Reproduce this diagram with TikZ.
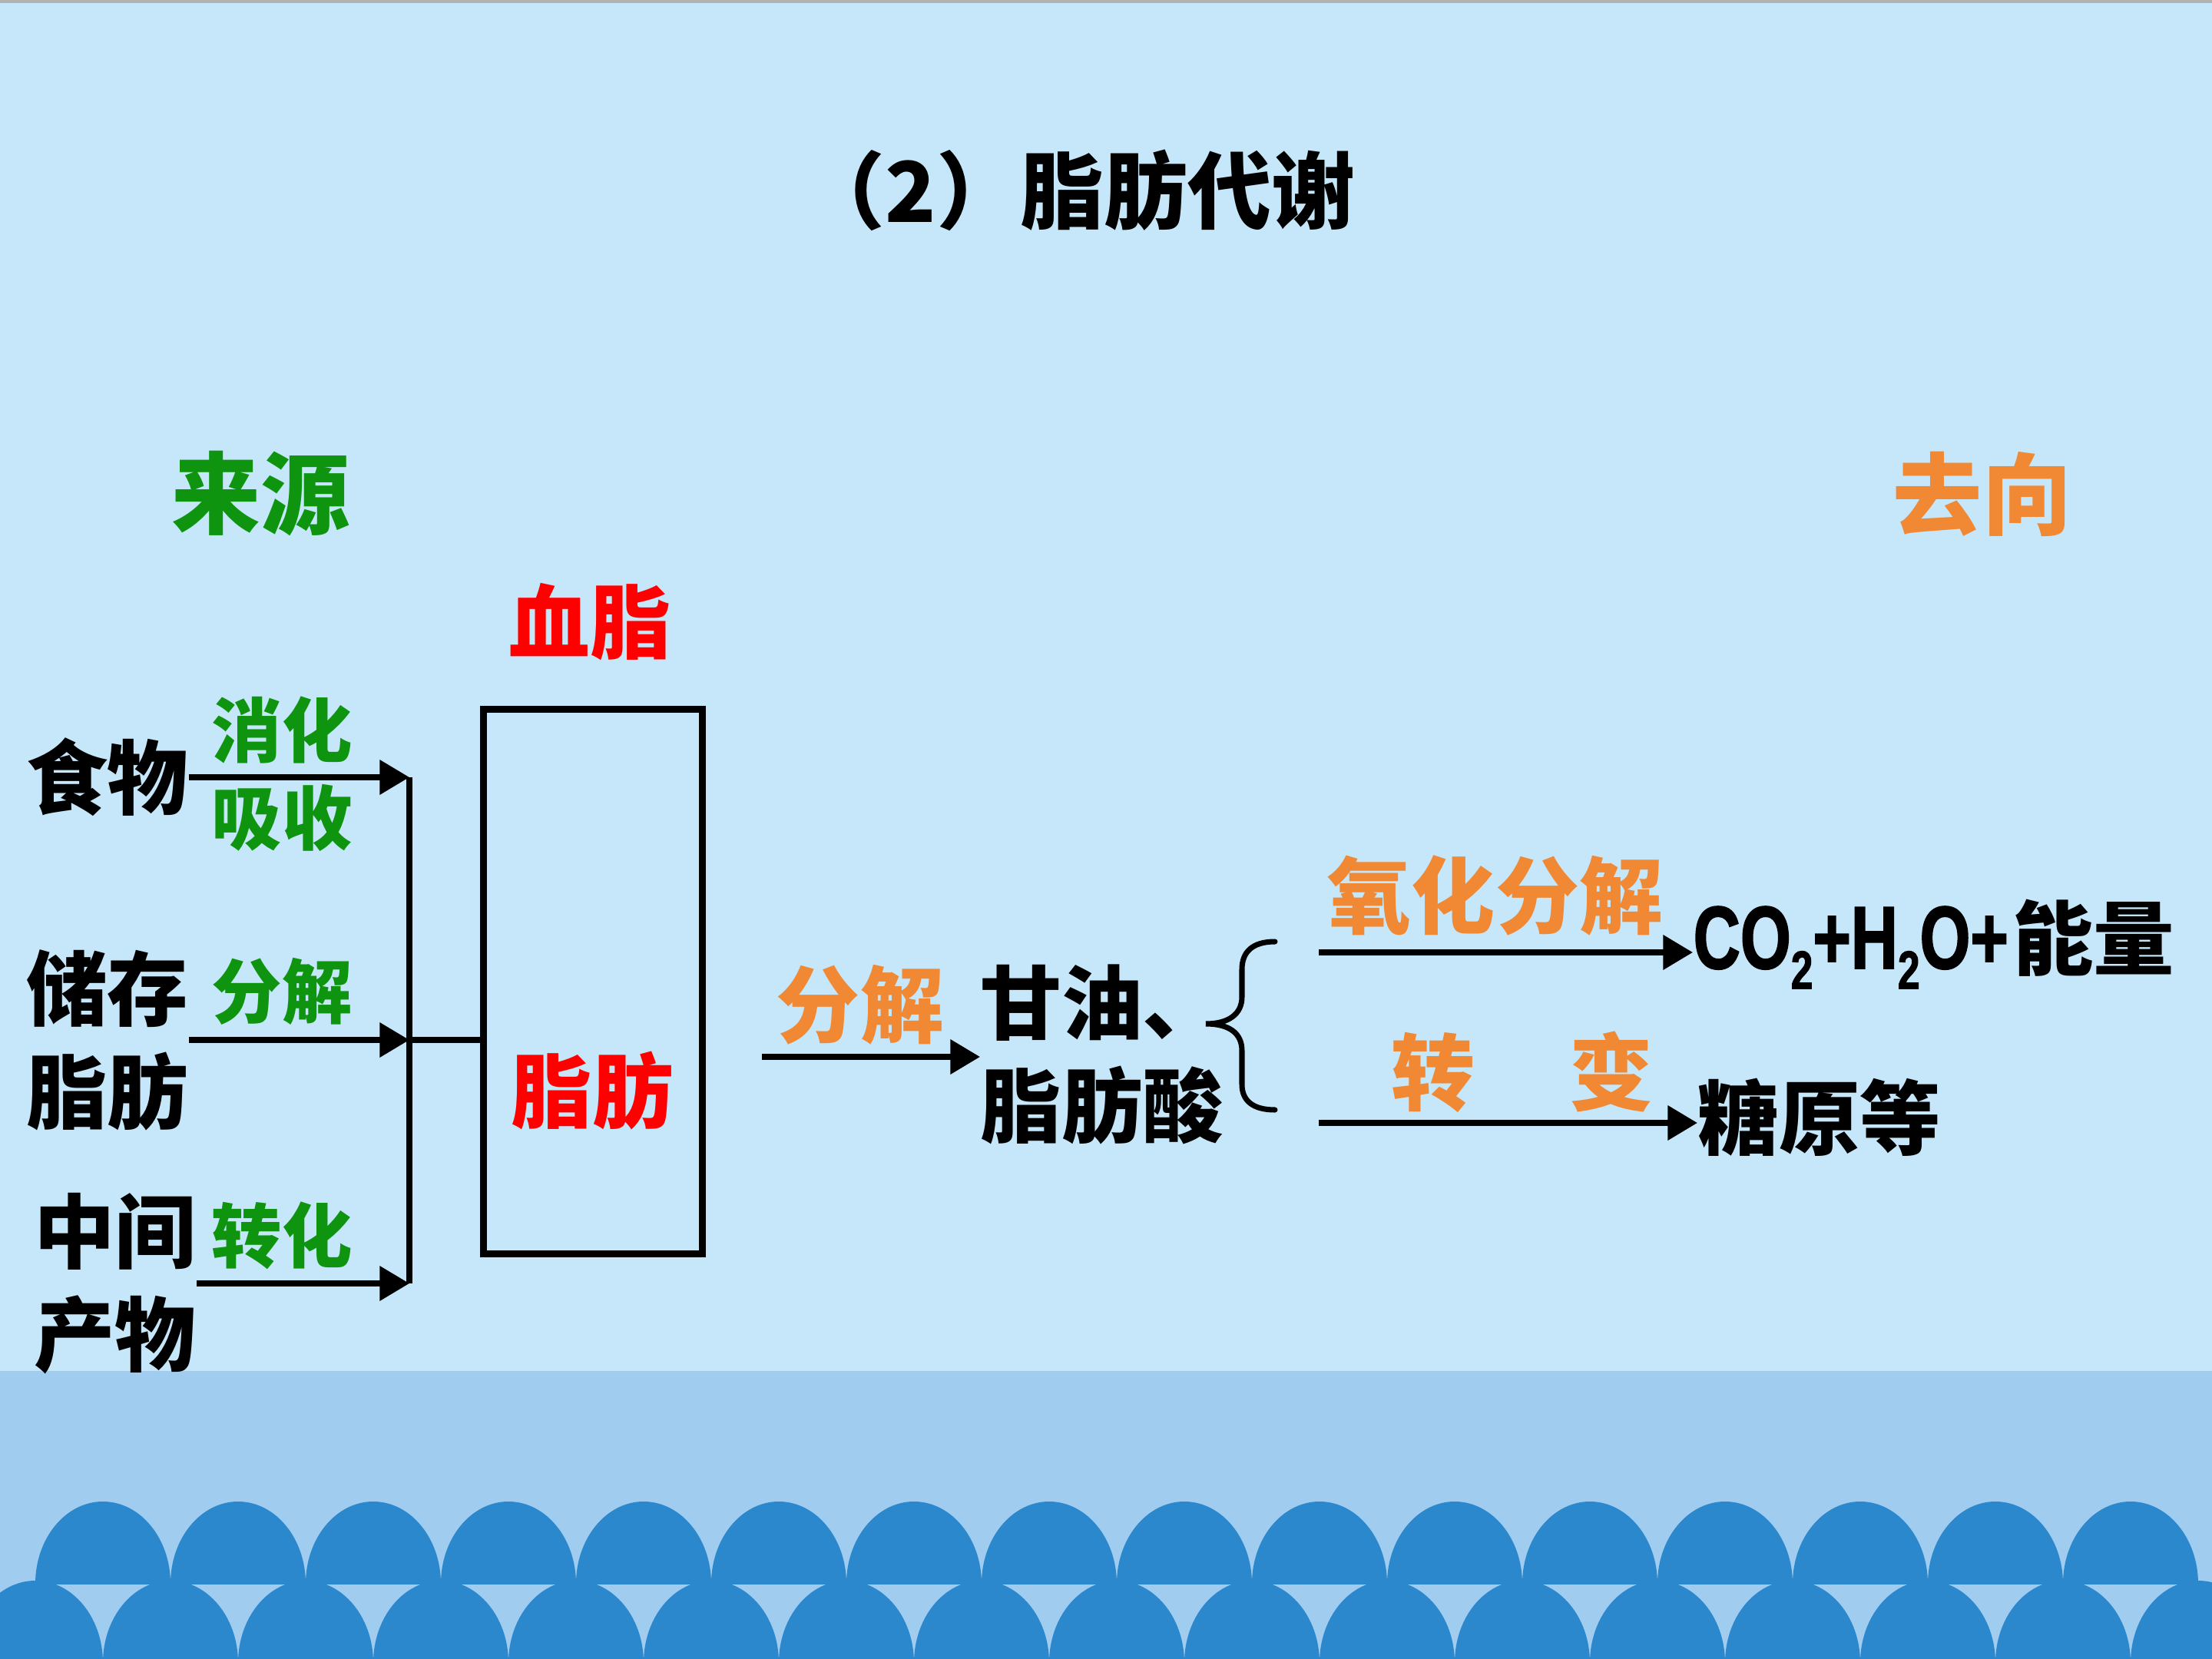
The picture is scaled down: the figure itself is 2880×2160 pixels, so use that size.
\documentclass[tikz,border=0pt]{standalone}
\usepackage{fontspec}
\setmainfont{Noto Sans CJK SC}
\newfontfamily\narrowfont{Liberation Sans Bold}[FakeStretch=0.73, FakeBold=1.5]
\usepackage{tikz}
\usetikzlibrary{arrows.meta}
\definecolor{skyblue}{RGB}{198,231,249}
\definecolor{seablue}{RGB}{160,205,239}
\definecolor{waveblue}{RGB}{43,136,205}
\definecolor{srcgreen}{RGB}{14,148,14}
\definecolor{outorange}{RGB}{240,136,52}

\begin{document}
\begin{tikzpicture}[x=0.01cm, y=-0.01cm,
  txt/.style={inner sep=0pt, font=\fontsize{30}{38}\selectfont\bfseries},
  head/.style={inner sep=0pt, font=\fontsize{33}{33}\selectfont\bfseries},
  greenlbl/.style={inner sep=0pt, text=srcgreen, font=\fontsize{26}{26}\selectfont\bfseries},
  orangelbl/.style={inner sep=0pt, text=outorange, font=\fontsize{31}{31}\selectfont\bfseries},
  fatbox/.style={draw, line width=2.6pt, minimum width=2.85cm, minimum height=7.08cm, inner sep=0pt},
  bar/.style={line width=2.2pt},
  arr/.style={line width=2.1pt, -{Triangle[length=11pt, width=12.5pt]}},
  bracket/.style={line width=2pt, line cap=round}
  ]

  % Background
  \useasboundingbox (0,0) rectangle (2880,2160);
  \fill[skyblue] (0,0) rectangle (2880,2160);
  \draw[gray!60, line width=1pt] (0,2) -- (2880,2);
  \fill[seablue] (0,1785) rectangle (2880,2160);
  \begin{scope}
    \clip (0,1900) rectangle (2880,2062);
    \foreach \i in {0,...,15}
      \fill[waveblue] ({134+176*\i},2062) ellipse [x radius=88, y radius=107];
  \end{scope}
  \begin{scope}
    \clip (0,2000) rectangle (2880,2160);
    \foreach \i in {0,...,16}
      \fill[waveblue] ({46+176*\i},2165) ellipse [x radius=88, y radius=107];
  \end{scope}

  % Nodes
  \node[inner sep=0pt, font=\fontsize{31}{31}\selectfont\bfseries] (title) at (1404,248) {（2）脂肪代谢};
  \node[head, text=srcgreen] (source) at (340,643) {来源};
  \node[head, text=outorange] (dest) at (2581,643) {去向};
  \node[txt, text=red] (blood) at (768,810) {血脂};
  \node[fatbox] (box) at (772,1278) {};
  \node[txt, text=red] (fat) at (771,1420) {脂肪};

  \node[txt] (food) at (140,1012) {食物};
  \node[txt, align=center] (store) at (140,1354) {储存\\脂肪};
  \node[txt, align=center] (inter) at (150,1671) {中间\\产物};
  \node[greenlbl] (digest) at (367,950) {消化};
  \node[greenlbl] (absorb) at (367,1065) {吸收};
  \node[greenlbl] (lysis) at (367,1291) {分解};
  \node[greenlbl] (convert) at (367,1609) {转化};

  \coordinate (bartop) at (533,1012);
  \coordinate (barmid) at (533,1354);
  \coordinate (barbot) at (533,1671);

  \node[txt, align=left, anchor=west] (glyc) at (1276,1373) {甘油、\\脂肪酸};
  \node[orangelbl] (decomp) at (1120,1308) {分解};
  \coordinate (split) at (992,1376);

  \node[txt, anchor=west] (co2) at (2204,1229)
    {{\narrowfont\fontsize{33}{33}\selectfont CO\raisebox{-7.5pt}{\fontsize{20}{20}\selectfont 2}+H\raisebox{-7.5pt}{\fontsize{20}{20}\selectfont 2}O+}\hspace{0.05em}能量};
  \node[txt, anchor=west] (sugar) at (2210,1455) {糖原等};
  \node[orangelbl] (oxid) at (1947,1166) {氧化分解};
  \node[orangelbl] (turn) at (1982,1396) {转\hspace{1.13em}变};
  \coordinate (oxstart) at (1717,1240);
  \coordinate (cvstart) at (1717,1462);

  % Connectors
  \draw[arr] (food.east) -- (bartop);
  \draw[arr] (store.east) -- (barmid);
  \draw[arr] (inter.east) -- (barbot);
  \draw[bar] (bartop) -- (barbot);
  \draw[bar] (barmid) -- (barmid -| box.west);
  \draw[arr] (split) -- (split -| glyc.west);
  \draw[arr] (oxstart) -- (oxstart -| co2.west);
  \draw[arr] (cvstart) -- (cvstart -| sugar.west);

  % Brace
  \draw[bracket] (1660,1226) .. controls (1630,1226) and (1617,1240) .. (1617,1262) -- (1617,1298)
    .. controls (1617,1320) and (1600,1333) .. (1570,1333)
    .. controls (1600,1333) and (1617,1345) .. (1617,1368) -- (1617,1412)
    .. controls (1617,1432) and (1630,1445) .. (1660,1445);

\end{tikzpicture}
\end{document}
